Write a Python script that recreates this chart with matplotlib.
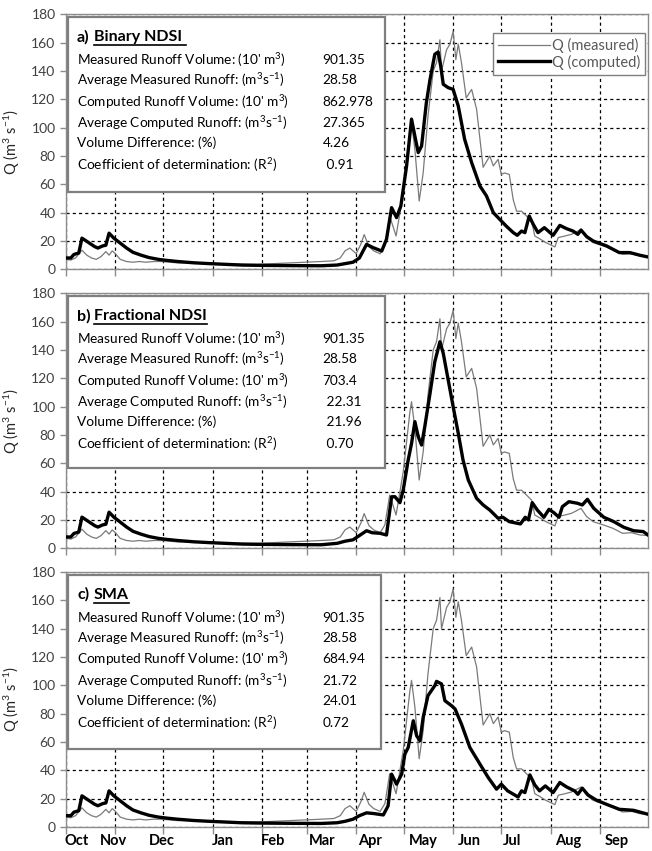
import matplotlib
matplotlib.use("Agg")
import matplotlib.pyplot as plt
from matplotlib.patches import Rectangle
from matplotlib.lines import Line2D

plt.rcParams['font.family'] = ['Lato', 'DejaVu Sans']
plt.rcParams['mathtext.fontset'] = 'custom'
plt.rcParams['mathtext.rm'] = 'Lato'
plt.rcParams['mathtext.it'] = 'Lato'
plt.rcParams['mathtext.bf'] = 'Lato:bold'

# ---------------- data ----------------
months = ['Oct', 'Nov', 'Dec', 'Jan', 'Feb', 'Mar', 'Apr', 'May', 'Jun', 'Jul', 'Aug', 'Sep']
month_lengths = [31, 30, 31, 31, 28, 31, 30, 31, 30, 31, 31, 30]

# measured discharge (same in all panels): day since 1 Oct, value m3/s
meas_day = [0, 3, 6, 10, 13, 16, 19, 22, 25, 27, 29, 31, 34, 38, 42, 46, 50, 55, 60, 65, 70, 80, 90,
            100, 110, 120, 130, 140, 150, 160, 168, 172, 175, 178, 182, 185, 187, 190, 193, 197, 200,
            203, 207, 211.5, 215.7, 216.7, 218.8, 221.5, 224, 227, 230.3, 232.4, 234.5, 235.5, 238.7,
            240.8, 242.8, 244.5, 246, 248, 251, 254.4, 257.5, 259.6, 261.6, 265.8, 268, 271, 273, 275,
            278, 280.5, 282.6, 285.7, 288.8, 292, 294, 297, 301, 306.6, 308.7, 312.9, 317, 320, 323,
            326.5, 330.6, 337, 343, 349, 354.7, 360, 365]
meas_val = [7, 6.5, 8, 13.5, 10, 8, 7, 9, 12.5, 10, 13, 11, 7, 5.5, 5, 5.5, 5, 5.5, 5.5, 5, 4.5, 4.5, 4,
            3.8, 3.5, 3.5, 4, 4.5, 5, 5.5, 6, 8, 13, 15, 11, 18, 24.5, 16, 13, 11, 16.5,
            37.6, 23.5, 54, 96.5, 103.5, 84.7, 48.2, 68, 108, 140, 146, 162, 140, 155,
            159, 168, 148, 159, 146, 121, 127, 113, 92, 72, 80, 73, 77.6, 67, 68,
            67, 49, 41, 41, 37.6, 34, 23.5, 21.6, 18.8, 15.8, 22.4, 23.5, 24.7, 26.4, 28.2,
            22.4, 18.8, 16.5, 14.1, 10.6, 11, 9.4, 9]

# computed discharge, common winter part (day, value)
winter_day = [0, 3, 5, 8, 10, 14, 18, 20, 23, 25, 27, 30, 34, 38, 42, 47, 52, 58, 63, 70, 80, 90,
              100, 110, 120, 140, 160]
winter_val = [8, 8, 10.5, 11.5, 22, 19, 16, 15, 16.5, 17, 25.5, 22, 18.5, 15, 12, 10, 8.3, 7, 6.3, 5.5,
              4.6, 4, 3.5, 3, 2.8, 2.6, 2.5]

# a) Binary NDSI
compA_day = [170, 175, 180, 184, 188.5, 192.6, 198, 201, 204.2, 207.3, 210, 211.5, 213.6, 216.7, 218.8,
             220.9, 223, 226, 228.3, 231.3, 233.4, 235, 236.6, 239.7, 242.8, 246, 250, 254.4, 259.6,
             263.7, 268, 273, 276, 280.5, 283, 285.7, 287.8, 290.5, 293, 296, 300, 305.5, 309.7, 313.9,
             318, 321, 323, 326.5, 330.6, 339, 347, 353.6, 360, 365]
compA_val = [3, 4, 5, 8, 17.6, 15.3, 12.9, 21.2, 43.5, 36.5, 44.7, 56.5, 73, 106, 94,
             82.4, 87, 117.6, 134, 151.8, 153.4, 143.5, 130.6, 128.2, 127, 115.3, 91.8, 75.3, 58.8,
             51.8, 40, 34.1, 30.6, 25.9, 24, 27, 25.9, 37.6, 31.8, 25.9, 29.4, 24, 31, 28.7,
             27, 24.7, 27.7, 23.1, 20, 16.5, 11.8, 11.8, 9.9, 8.7]

# b) Fractional NDSI
compB_day = [170, 175, 180, 184, 188.5, 192, 196.9, 201, 204.2, 206.3, 209.4, 211.5, 214.6, 216.7, 218.8,
             220.9, 223, 225, 228.3, 231.3, 234.5, 236.6, 239.7, 242.8, 246, 249, 252.3, 257.5, 261.6,
             265.8, 271, 274, 278, 285, 288, 290, 292.4, 295.6, 299.7, 302.9, 306, 309.2, 311.3, 315.4,
             320.7, 323.8, 327, 331, 337.3, 343.6, 349.9, 356, 362, 365]
compB_val = [3.5, 5, 6, 9, 12.4, 11, 10.6, 9.4, 36.4, 36.4, 32.2, 41.2, 62.3, 74, 89.4,
             78.8, 72.9, 85.8, 109.4, 131.7, 145.8, 137.6, 118.8, 100, 81.2, 62.3, 48.2, 35.3, 30.6,
             27, 21.2, 21.9, 18.8, 17.2, 21.9, 20, 32.2, 27, 21.9, 27.5, 25.1, 21.9, 29.4, 32.9,
             31.8, 30.6, 34.6, 28.2, 21.9, 18.8, 14.8, 12.4, 11.8, 9.4]

# c) SMA
compC_day = [170, 175, 180, 184, 188.5, 193, 199, 202, 204.2, 207.3, 210.5, 212.5, 214.6, 217.8, 219.9,
             222, 224, 227, 231.3, 232.4, 235.5, 237.6, 241.8, 244, 248, 253.3, 259.6, 264.8, 270,
             273, 277, 283.5, 285.7, 287.8, 290.9, 294, 297, 300.6, 305.5, 309.7, 313.9, 319, 321,
             323.8, 327.4, 332.7, 339, 347, 355.8, 365]
compC_val = [3, 4, 5.5, 8, 10, 9.5, 8.5, 14.9, 37.3, 30.2, 37.3, 51.4, 56.1, 75, 64.4,
             60.9, 77.4, 92.7, 99.8, 102.8, 101, 89.2, 85.6, 83.3, 72.7, 56.1, 44.4, 34.9, 26.7,
             30.2, 25.5, 21.2, 25.5, 24.3, 36.8, 29.7, 25.5, 29, 24.3, 31.4, 28.3, 25.5, 23.1,
             27.4, 22.6, 18.9, 16, 12.5, 11.8, 9]

panel_titles = ['a)', 'b)', 'c)']
panel_names = ['Binary NDSI ', 'Fractional NDSI', 'SMA']
stat_labels = [r"Measured Runoff Volume: (10' m$\mathregular{^3}$)",
               r"Average Measured Runoff: (m$\mathregular{^3}$s$\mathregular{^{-1}}$)",
               r"Computed Runoff Volume: (10' m$\mathregular{^3}$)",
               r"Average Computed Runoff: (m$\mathregular{^3}$s$\mathregular{^{-1}}$)",
               "Volume Difference: (%)",
               r"Coefficient of determination: (R$\mathregular{^2}$)"]
stat_values = [["901.35", "28.58", "862.978", "27.365", "4.26", " 0.91"],
               ["901.35", "28.58", "703.4", " 22.31", " 21.96", " 0.70"],
               ["901.35", "28.58", "684.94", "21.72", "24.01", "0.72"]]
yticks = [0, 20, 40, 60, 80, 100, 120, 140, 160, 180]

# ---------------- layout ----------------
W, H = 652, 851
fig = plt.figure(figsize=(W / 100, H / 100), dpi=100)
ax_left, ax_right = 66, 648
panel_tops = [14.3, 293.3, 572]
panel_h = 255
month_starts = [sum(month_lengths[:i]) for i in range(12)]
label_pos = [6.9, 29.5, 60.2, 98.5, 129.8, 160.5, 190.7, 223.9, 252.7, 279.7, 314.8, 345.6]

comp_days = [winter_day + compA_day, winter_day + compB_day, winter_day + compC_day]
comp_vals = [winter_val + compA_val, winter_val + compB_val, winter_val + compC_val]

fig.canvas.draw()
renderer = fig.canvas.get_renderer()

for i in range(3):
    top = panel_tops[i]
    ax = fig.add_axes([ax_left / W, (H - top - panel_h) / H, (ax_right - ax_left) / W, panel_h / H])
    ax.set_xlim(0, 365)
    ax.set_ylim(0, 180)
    ax.set_yticks(yticks)
    ax.set_xticks(month_starts)
    ax.set_xticklabels([])
    ax.grid(True, color='black', linestyle=(0, (2.5, 2.5)), linewidth=0.9)
    for s in ax.spines.values():
        s.set_color('#8c8c8c')
        s.set_linewidth(1.0)
    ax.tick_params(axis='y', colors='#8c8c8c', labelcolor='#404040', labelsize=10, length=4, width=1)
    ax.tick_params(axis='x', colors='#8c8c8c', length=5, width=1, direction='out')
    ax.set_ylabel(r"Q (m$\mathregular{^3}$ s$\mathregular{^{-1}}$)", fontsize=10.5, color='#262626')
    ax.yaxis.set_label_coords((22 - ax_left) / (ax_right - ax_left), 0.5)

    ax.plot(meas_day, meas_val, color='#7a7a7a', linewidth=0.9, label='Q (measured)', zorder=3)
    ax.plot(comp_days[i], comp_vals[i], color='black', linewidth=2.4, label='Q (computed)', zorder=4)

    if i == 2:
        ax.set_xticks(label_pos, minor=True)
        ax.set_xticklabels(months, minor=True, fontweight='bold', fontsize=10.5)
        ax.tick_params(axis='x', which='minor', length=0, pad=5)

    # stats box
    box_bottom = [0.303, 0.315, 0.306][i]
    box_right = [0.548, 0.548, 0.541][i]
    ax.add_patch(Rectangle((0.004, box_bottom), box_right - 0.004, 0.99 - box_bottom,
                           transform=ax.transAxes, facecolor='white', edgecolor='#7f7f7f',
                           linewidth=1.6, zorder=6))
    ax.text(0.019, 0.911, panel_titles[i], transform=ax.transAxes, fontsize=11.5, fontweight='bold',
            va='center', ha='left', zorder=7)
    nm = ax.text(0.048, 0.911, panel_names[i], transform=ax.transAxes, fontsize=11.5, fontweight='bold',
                 va='center', ha='left', zorder=7)
    bb = nm.get_window_extent(renderer=renderer)
    inv = ax.transAxes.inverted()
    (x0, y0), (x1, y1) = inv.transform([(bb.x0, bb.y0), (bb.x1, bb.y0)])
    ax.add_line(Line2D([x0, x1], [y0 - 0.004, y0 - 0.004], transform=ax.transAxes, color='black',
                       linewidth=1.2, zorder=7))
    ys = [0.821, 0.742, 0.657, 0.573, 0.495, 0.409]
    for k in range(6):
        ax.text(0.019, ys[k], stat_labels[k], transform=ax.transAxes, fontsize=9.8, va='center',
                ha='left', zorder=7)
        ax.text(0.441, ys[k], stat_values[i][k], transform=ax.transAxes, fontsize=9.8, va='center',
                ha='left', zorder=7)

    if i == 0:
        leg = ax.legend(loc='upper right', bbox_to_anchor=(0.995, 0.927), frameon=True, fancybox=False,
                        edgecolor='#7f7f7f', framealpha=1, fontsize=10.5, handlelength=3.6,
                        handletextpad=0.1, borderpad=0.35, labelspacing=0.1, borderaxespad=0)
        leg.get_frame().set_linewidth(1.0)
        for t in leg.get_texts():
            t.set_color('#595959')
        leg.set_zorder(8)

fig.savefig('out.png', dpi=100)
